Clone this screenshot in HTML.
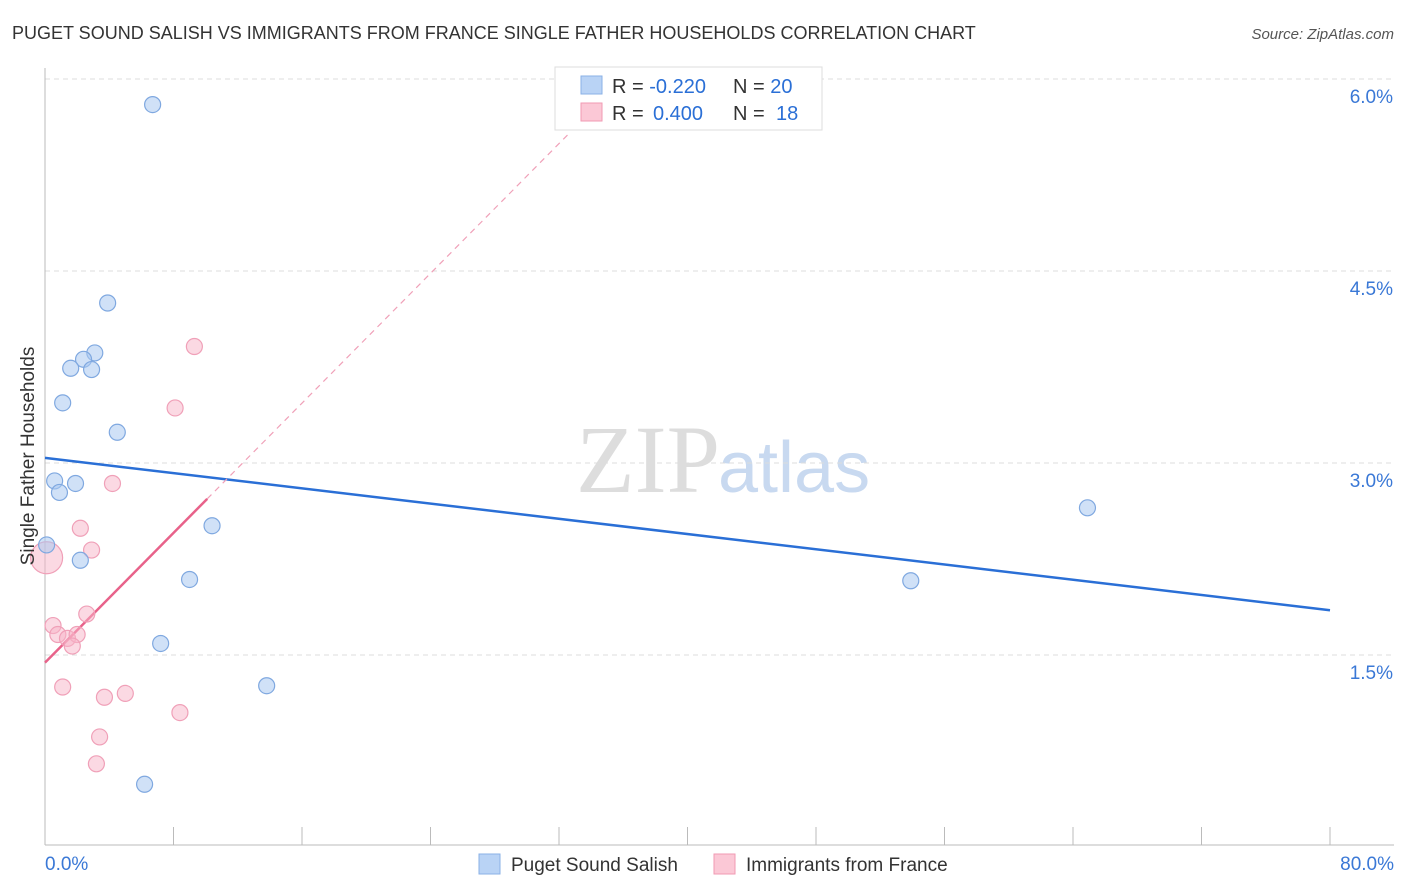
<!DOCTYPE html>
<html><head><meta charset="utf-8"><style>
body{margin:0;background:#fff;font-family:"Liberation Sans",sans-serif;}
svg{display:block}
</style></head><body>
<svg id="chart" width="1406" height="892">
<text x="12" y="39" font-size="18" fill="#333">PUGET SOUND SALISH VS IMMIGRANTS FROM FRANCE SINGLE FATHER HOUSEHOLDS CORRELATION CHART</text>
<text x="1394" y="39" font-size="15" fill="#555" font-style="italic" text-anchor="end">Source: ZipAtlas.com</text>
<text x="720" y="492" font-size="96" fill="#ddd" text-anchor="end" font-family="Liberation Serif,serif">ZIP</text>
<text x="718" y="492" font-size="72" fill="#c8d9f0">atlas</text>
<g id="grid"></g><g id="axes"></g><g id="lines"></g><g id="pts"></g>
<text transform="translate(34,456) rotate(-90)" font-size="19" fill="#333" text-anchor="middle">Single Father Households</text>
<g>
<rect x="555" y="67" width="267" height="63" fill="#fff" stroke="#ddd"/>
<rect x="581" y="76" width="21" height="18" fill="#b9d3f5" stroke="#8ab0e6"/>
<rect x="581" y="103" width="21" height="18" fill="#fbc8d6" stroke="#f09ab3"/>
<text x="612" y="93" font-size="20" fill="#333">R = <tspan fill="#2a6fd6">-0.220</tspan></text>
<text x="733" y="93" font-size="20" fill="#333">N = <tspan fill="#2a6fd6">20</tspan></text>
<text x="612" y="120" font-size="20" fill="#333">R = <tspan fill="#2a6fd6" x="653">0.400</tspan></text>
<text x="733" y="120" font-size="20" fill="#333">N = <tspan fill="#2a6fd6" x="776">18</tspan></text>
</g>
<g>
<rect x="479" y="854" width="21" height="20" fill="#b9d3f5" stroke="#8ab0e6"/>
<text x="511" y="871" font-size="19" fill="#333">Puget Sound Salish</text>
<rect x="714" y="854" width="21" height="20" fill="#fbc8d6" stroke="#f09ab3"/>
<text x="746" y="871" font-size="19" fill="#333">Immigrants from France</text>
</g>
</svg>
<script>
const yTicks=[1.5,3.0,4.5,6.0];
const xTickLabels=["0.0%","80.0%"];
const blueX=[6.7,3.9,3.1,2.4,1.6,2.9,1.1,4.5,0.6,0.9,1.9,0.1,2.2,10.4,9.0,7.2,13.8,6.2,53.9,64.9];
const blueY=[5.80,4.25,3.86,3.81,3.74,3.73,3.47,3.24,2.86,2.77,2.84,2.36,2.24,2.51,2.09,1.59,1.26,0.49,2.08,2.65];
const pinkX=[9.3,8.1,4.2,2.2,2.9,0.1,2.6,0.5,0.8,1.4,2.0,1.7,1.1,3.7,5.0,8.4,3.4,3.2];
const pinkY=[3.91,3.43,2.84,2.49,2.32,2.26,1.82,1.73,1.66,1.63,1.66,1.57,1.25,1.17,1.20,1.05,0.86,0.65];
const pinkR=[8,8,8,8,8,16,8,8,8,8,8,8,8,8,8,8,8,8];
const blueTrend=[3.04,1.85];
const pinkTrend=[1.44,2.72];
const pinkTrendEnd=[10.1,32.6];
const X=v=>45+v/80*1285, Y=v=>847-v*128;
const NS="http://www.w3.org/2000/svg";
function mk(p,t,a){const e=document.createElementNS(NS,t);for(const k in a)e.setAttribute(k,a[k]);document.getElementById(p).appendChild(e);return e;}
yTicks.forEach(t=>{
 const l=mk('grid','line',{x1:45,x2:1394,y1:Y(t),y2:Y(t),stroke:'#ddd','stroke-dasharray':'5,4'});
 
 
 const tx=mk('grid','text',{x:1393,y:Y(t)+24,'font-size':19,fill:'#3a78d6','text-anchor':'end'});
 tx.textContent=t.toFixed(1)+'%';
 
 
});
const ax=mk('axes','line',{x1:45,x2:1394,y1:845,y2:845,stroke:'#bbb'});


const ay=mk('axes','line',{x1:45,x2:45,y1:68,y2:845,stroke:'#bbb'});


for(let i=0;i<=10;i++){const t=mk('axes','line',{x1:X(i*8),x2:X(i*8),y1:827,y2:845,stroke:'#bbb'});
 
 }
[[0,'start',45],[80,'end',1394]].forEach((d,i)=>{const t=mk('axes','text',{x:d[2],y:870,'font-size':19,fill:'#3a78d6','text-anchor':d[1]});
 t.textContent=xTickLabels[i];
 
 });
const bl=mk('lines','line',{x1:X(0),y1:Y(blueTrend[0]),x2:X(80),y2:Y(blueTrend[1]),stroke:'#2a6fd6','stroke-width':2.5});


const slope=(pinkTrend[1]-pinkTrend[0])/pinkTrendEnd[0];
const pd=mk('lines','line',{x1:X(pinkTrendEnd[0]),y1:Y(pinkTrend[1]),x2:X(pinkTrendEnd[1]),y2:Y(pinkTrend[0]+slope*pinkTrendEnd[1]),stroke:'#f0a0b8','stroke-width':1.2,'stroke-dasharray':'6,5'});


const pl=mk('lines','line',{x1:X(0),y1:Y(pinkTrend[0]),x2:X(pinkTrendEnd[0]),y2:Y(pinkTrend[1]),stroke:'#e8628a','stroke-width':2.5});


pinkX.forEach((x,i)=>{const c=mk('pts','circle',{cx:X(x),cy:Y(pinkY[i]),r:pinkR[i],fill:'rgba(248,180,200,0.5)',stroke:'#f0a0b8','stroke-width':1.2});
 
 });
blueX.forEach((x,i)=>{const c=mk('pts','circle',{cx:X(x),cy:Y(blueY[i]),r:8,fill:'rgba(170,200,240,0.55)',stroke:'#7fa8e0','stroke-width':1.2});
 
 });
</script>
</body></html>
